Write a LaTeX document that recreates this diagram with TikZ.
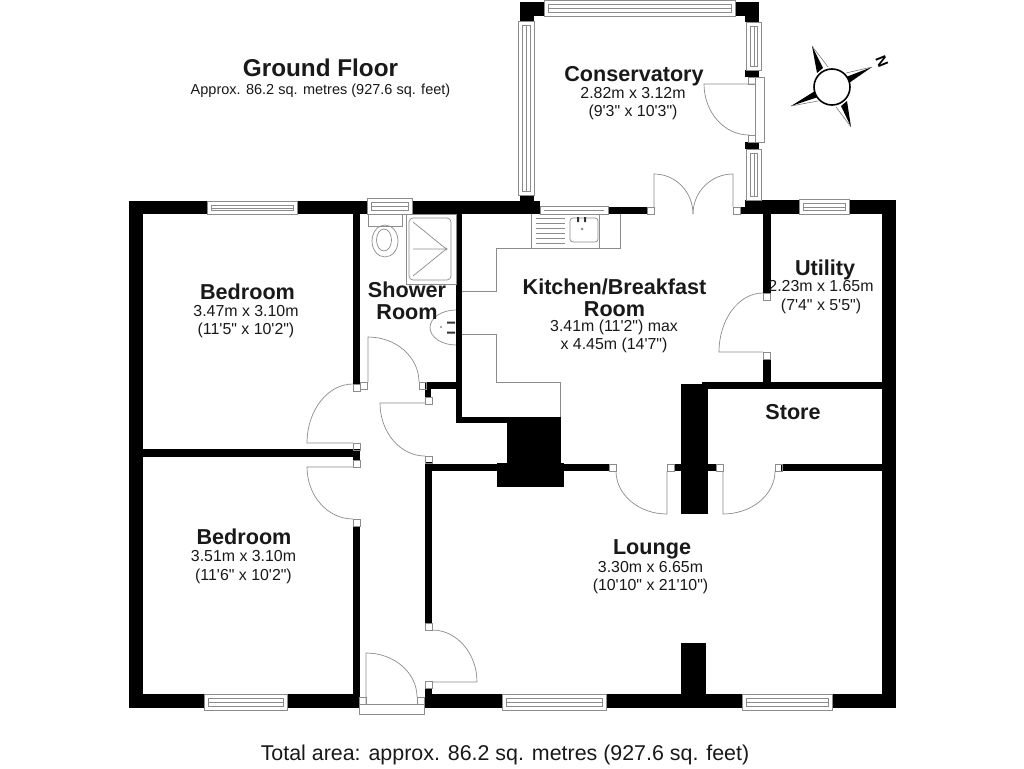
\documentclass[tikz,border=0pt]{standalone}
\usepackage{fontspec}
\newfontfamily\planfont{Liberation Sans}
\definecolor{ln}{gray}{0.55}
\definecolor{txt}{gray}{0.1}
\newcommand{\WL}[4]{\fill[wallfill] (#1,#2) rectangle (#3,#4);}
\newcommand{\SQ}[2]{\draw[fit] (#1,#2) rectangle ++(7,7);}
\newcommand{\WH}[4]{% horizontal window x1 y1 x2 y2
  \draw[fit,fill=white] (#1,#2) rectangle (#3,#4);
  \draw[fit] (#1+4,#2+4.5) rectangle (#3-4,#4-3.5);
  \draw[fit] (#1+4,{(#2+#4)/2+0.5}) -- (#3-4,{(#2+#4)/2+0.5});}
\newcommand{\WV}[4]{% vertical window
  \draw[fit,fill=white] (#1,#2) rectangle (#3,#4);
  \draw[fit] (#1+4.5,#2+4) rectangle (#3-3.5,#4-4);
  \draw[fit] ({(#1+#3)/2+0.5},#2+4) -- ({(#1+#3)/2+0.5},#4-4);}
\tikzset{
  wallfill/.style={fill=black,draw=none},
  fit/.style={draw=ln,line width=0.7pt},
  rname/.style={font=\planfont\bfseries\fontsize{21.6}{22}\selectfont,text=txt,align=center,inner sep=0pt},
  rsize/.style={font=\planfont\fontsize{15.9}{18.5}\selectfont,text=txt,align=center,inner sep=0pt},
}
\begin{document}
\begin{tikzpicture}[x=1pt,y=-1pt]
\useasboundingbox (0,0) rectangle (1024,768);
\fill[white] (0,0) rectangle (1024,768);
% --- outer walls
\WL{129}{201}{143}{708}
\WL{882}{201}{896}{708}
\WL{129}{201}{534}{214}
\WL{129}{694}{360}{708}
\WL{425}{694}{896}{708}
\WL{745}{200}{896}{214}
\WL{740}{207}{745}{214}
\WL{520}{195}{534}{207}
\WL{534}{201}{540}{214}
\WL{608}{207}{647}{214}
% conservatory corners
\WL{520}{2}{544}{16}
\WL{520}{16}{534}{21}
\WL{735}{2}{759}{16}
\WL{745}{16}{759}{22}
\WL{745}{70}{759}{77}
\WL{745}{142}{759}{149}
% inner walls
\WL{353}{214}{360}{384}
\WL{456}{214}{462}{423}
\WL{425}{382}{456}{389}
\WL{425}{389}{431}{397}
\WL{456}{417}{507}{423}
\WL{507}{417}{561}{463}
\WL{497}{463}{564}{487}
\WL{425}{464}{507}{471}
\WL{561}{464}{609}{471}
\WL{425}{462}{432}{623}
\WL{425}{688}{432}{694}
\WL{143}{449}{360}{457}
\WL{353}{457}{360}{460}
\WL{353}{526}{360}{694}
\WL{763}{214}{771}{293}
\WL{763}{359}{771}{382}
\WL{702}{382}{882}{389}
\WL{681}{384}{708}{514}
\WL{674}{464}{716}{471}
\WL{781}{464}{882}{471}
\WL{681}{643}{706}{694}
% --- door squares
\SQ{360}{382}\SQ{353}{384}\SQ{419}{382}\SQ{425}{397}\SQ{425}{456}
\SQ{353}{443}\SQ{353}{460}\SQ{353}{519}
\SQ{609}{464}\SQ{667}{464}\SQ{716}{464}\SQ{775}{464}
\SQ{763}{293}\SQ{763}{352}
\SQ{425}{623}\SQ{425}{681}
\SQ{359}{697}\SQ{417}{697}
\SQ{647}{207}\SQ{733}{207}
\SQ{748}{77}\SQ{748}{135}
% front door frame, conservatory door frame
\draw[fit] (359,704) rectangle (424,714);
\draw[fit] (755,77) rectangle (764,142);
% --- windows
\WH{207}{201}{297}{214}
\WH{367}{198}{412}{214}
\WH{540}{206}{608}{214}
\WH{799}{199}{849}{214}
\WH{204}{694}{287}{710}
\WH{502}{694}{606}{710}
\WH{742}{694}{832}{710}
\WH{544}{0}{735}{16}
\WV{518}{21}{534}{195}
\WV{746}{22}{761}{70}
\WV{746}{149}{761}{200}
% --- door leaves and swings
\draw[fit] (368,382) -- (368,337) arc[start angle=-90,end angle=0,x radius=51,y radius=45];
\draw[fit] (353,384) arc[start angle=-90,end angle=-180,x radius=46,y radius=59] -- (353,443);
\draw[fit] (353,467) -- (307,467) arc[start angle=180,end angle=90,x radius=46,y radius=52];
\draw[fit] (425,403) -- (380,403) arc[start angle=180,end angle=90,x radius=45,y radius=53];
\draw[fit] (616,471) arc[start angle=180,end angle=90,x radius=51,y radius=43] -- (667,471);
\draw[fit] (723,471) -- (723,514) arc[start angle=90,end angle=0,x radius=52,y radius=43];
\draw[fit] (763,293) arc[start angle=-90,end angle=-180,x radius=44,y radius=59] -- (763,352);
\draw[fit] (432,630) arc[start angle=-90,end angle=0,x radius=45,y radius=52] -- (432,682);
\draw[fit] (366,704) -- (366,653) arc[start angle=-90,end angle=0,x radius=51,y radius=44];
\draw[fit] (755,84) -- (704,84) arc[start angle=180,end angle=90,x radius=45,y radius=51];
\draw[fit] (654,207) -- (654,174) arc[start angle=-90,end angle=0,x radius=39,y radius=40];
\draw[fit] (733,207) -- (733,174) arc[start angle=-90,end angle=-180,x radius=40,y radius=40];
% --- kitchen units
\draw[fit] (620,214) -- (620,248) -- (496,248) -- (496,291) -- (462,291);
\draw[fit] (462,334) -- (496,334) -- (496,382) -- (560,382) -- (560,417);
\draw[fit] (531,214) -- (531,248) (599,214) -- (599,248);
\foreach \yy in {218,223,228,233,238,243} {\draw[fit,line width=0.6pt] (536,\yy) -- (565,\yy);}
\draw[fit,rounded corners=3pt] (570,218) rectangle (598,242);
\fill[black!80] (577,217) rectangle (579,222) (584,217) rectangle (586,222);
\draw[fit] (582,229) circle (1);
% --- shower room fittings
\draw[fit] (406,214) rectangle (456,284);
\draw[fit,rounded corners=4pt] (409,218) rectangle (451,280);
\draw[fit] (413,222) -- (445,248) (413,276) -- (445,250) (413,249) -- (444,249);
\draw[fit] (446,249) circle (1.2);
\draw[fit] (368,214) rectangle (402,226);
\draw[fit] (385,241) ellipse (13 and 16);
\draw[fit] (384,240) ellipse (7.5 and 11);
\draw[fit] (456,310) arc[start angle=-90,end angle=-270,x radius=26,y radius=17.5];
\fill[black!80] (447,321.5) rectangle (455,323.5) (447,331.5) rectangle (455,333.5);
\draw[fit] (441,327) circle (0.7);
% --- compass
\fill[black] (812,46) -- (817,73) -- (823,68) -- cycle;
\draw[black!60,line width=0.5pt] (812,46) -- (828,67);
\fill[black] (851,127) -- (847,101) -- (841,106) -- cycle;
\draw[black!60,line width=0.5pt] (851,127) -- (836,107);
\fill[black] (872,67) -- (846,77) -- (849,83) -- cycle;
\draw[black!60,line width=0.5pt] (872,67) -- (846,73);
\fill[black] (791,106) -- (818,97) -- (815,91) -- cycle;
\draw[black!60,line width=0.5pt] (791,106) -- (818,101);
\draw[black,line width=1.6pt,fill=white] (832,87) circle (18);
\node[font=\planfont\bfseries\fontsize{15}{15}\selectfont,rotate=-68,inner sep=0pt] (north) at (882,62) {N};
% --- texts
\node[rname,font=\planfont\bfseries\fontsize{24.3}{26}\selectfont] (title) at (320.5,68) {Ground Floor};
\node[rsize,font=\planfont\fontsize{14.5}{16}\selectfont] (sub) at (320.5,90.5) {Approx. 86.2 sq. metres (927.6 sq. feet)};
\node[rname] (cons) at (634,76) {Conservatory};
\node[rsize] (consz) at (633,103.5) {2.82m x 3.12m\\(9'3" x 10'3")};
\node[rname] (bed1) at (247.5,292) {Bedroom};
\node[rsize] (bed1z) at (246,321.5) {3.47m x 3.10m\\(11'5" x 10'2")};
\node[rname] (bed2) at (244,537) {Bedroom};
\node[rsize] (bed2z) at (243.5,567) {3.51m x 3.10m\\(11'6" x 10'2")};
\node[rname] (show) at (407,301) {Shower\\Room};
\node[rname] (kit) at (614.5,297.5) {Kitchen/Breakfast\\Room};
\node[rsize] (kitz) at (614,336.5) {3.41m (11'2") max\\x 4.45m (14'7")};
\node[rname] (util) at (825,270) {Utility};
\node[rsize] (utilz) at (821,297) {2.23m x 1.65m\\(7'4" x 5'5")};
\node[rname] (store) at (793,412) {Store};
\node[rname] (lounge) at (652,549) {Lounge};
\node[rsize] (loungez) at (650.5,577.5) {3.30m x 6.65m\\(10'10" x 21'10")};
\node[rsize,font=\planfont\fontsize{21.4}{24}\selectfont] (total) at (505,755) {Total area: approx. 86.2 sq. metres (927.6 sq. feet)};
\end{tikzpicture}
\end{document}
